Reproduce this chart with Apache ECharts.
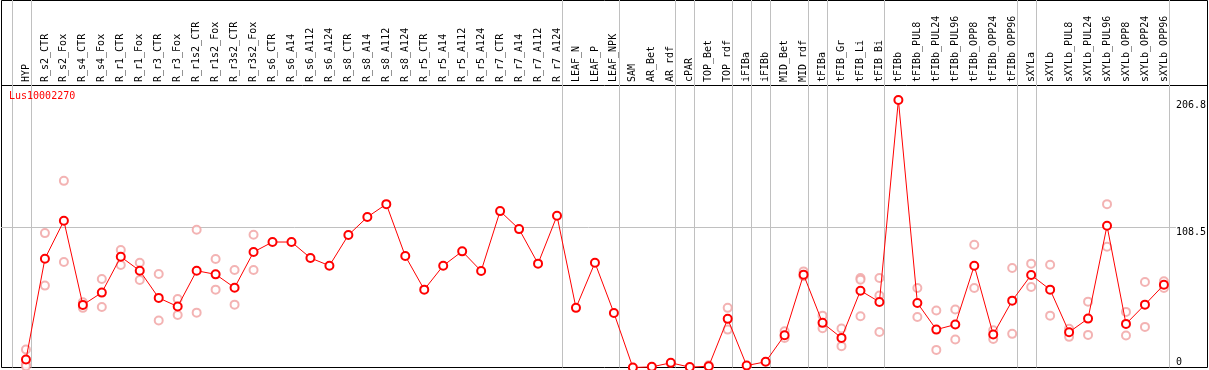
<!DOCTYPE html>
<html>
<head>
<meta charset="utf-8">
<script src="https://cdn.jsdelivr.net/npm/echarts@6/dist/echarts.min.js"></script>
<style>
    html, body { margin: 0; padding: 0; background: #fff; }
    #chart { width: 1209px; height: 370px; }
</style>
</head>
<body>
<div id="chart"></div>
<script>
// 样本名 (x 轴)
var categories = ['HYP', 'R_s2_CTR', 'R_s2_Fox', 'R_s4_CTR', 'R_s4_Fox', 'R_r1_CTR', 'R_r1_Fox', 'R_r3_CTR', 'R_r3_Fox',
    'R_r1s2_CTR', 'R_r1s2_Fox', 'R_r3s2_CTR', 'R_r3s2_Fox', 'R_s6_CTR', 'R_s6_A14', 'R_s6_A112', 'R_s6_A124',
    'R_s8_CTR', 'R_s8_A14', 'R_s8_A112', 'R_s8_A124', 'R_r5_CTR', 'R_r5_A14', 'R_r5_A112', 'R_r5_A124',
    'R_r7_CTR', 'R_r7_A14', 'R_r7_A112', 'R_r7_A124', 'LEAF_N', 'LEAF_P', 'LEAF_NPK', 'SAM', 'AR_Bet', 'AR_rdf',
    'cPAR', 'TOP_Bet', 'TOP_rdf', 'iFIBa', 'iFIBb', 'MID_Bet', 'MID_rdf', 'tFIBa', 'tFIB_Gr', 'tFIB_Li', 'tFIB_Bi',
    'tFIBb', 'tFIBb_PUL8', 'tFIBb_PUL24', 'tFIBb_PUL96', 'tFIBb_OPP8', 'tFIBb_OPP24', 'tFIBb_OPP96',
    'sXYLa', 'sXYLb', 'sXYLb_PUL8', 'sXYLb_PUL24', 'sXYLb_PUL96', 'sXYLb_OPP8', 'sXYLb_OPP24', 'sXYLb_OPP96'];

// 平均值
var meanValues = [6.2, 84.1, 113.4, 48.4, 57.9, 85.6, 74.8, 53.8, 47.1, 74.8, 72.0, 61.7, 89.3, 97.0, 97.0, 84.7, 78.7,
    102.4, 116.3, 126.3, 86.2, 60.2, 78.7, 89.8, 74.6, 120.9, 107.0, 80.3, 117.3, 46.1, 81.0, 42.2, 0.0, 0.5, 3.6,
    0.3, 1.0, 37.6, 1.5, 4.4, 25.0, 71.8, 34.5, 22.9, 59.4, 50.7, 206.8, 49.9, 29.3, 33.2, 78.7, 25.5, 51.7,
    71.5, 60.2, 27.3, 37.8, 109.6, 33.7, 48.6, 64.0];

// 重复样本
var rep1 = [13.9, 103.9, 144.3, 50.4, 68.4, 90.8, 81.0, 72.3, 53.0, 106.5, 83.9, 75.4, 102.6, null, null, null, null,
    null, null, null, null, null, null, null, null, null, null, null, null, null, null, null, null, null, null,
    null, 1.7, 46.1, null, null, 28.0, 74.3, 40.1, 30.1, 69.2, 69.2, null, 61.5, 44.0, 44.8, 94.9, 28.8, 76.9,
    80.3, 79.5, 29.9, 50.9, 126.3, 43.0, 66.1, 66.6];
var rep2 = [2.5, 63.3, 81.5, 46.1, 46.8, 79.2, 67.7, 36.3, 40.6, 42.4, 60.2, 48.6, 75.4, null, null, null, null,
    null, null, null, null, null, null, null, null, null, null, null, null, null, null, null, null, null, null,
    null, 0.5, 29.3, null, null, 22.9, 70.5, 30.3, 16.5, 39.6, 27.5, null, 39.1, 13.6, 21.6, 61.5, 22.1, 26.0,
    62.3, 40.1, 23.7, 25.2, 93.4, 24.7, 31.4, 61.5];
var rep3 = [1.0, null, null, null, null, null, null, null, null, null, null, null, null, null, null, null, null,
    null, null, null, null, null, null, null, null, null, null, null, null, null, null, null, null, null, null,
    null, null, null, null, null, null, null, null, null, 67.9, 55.6, null, null, null, null, null, null, null,
    null, null, null, null, null, null, null, null];

// 分组分隔线 (在这些样本之后)
var groupEnds = [-1, 0, 28, 31, 34, 35, 37, 38, 39, 41, 42, 45, 52, 53, 60];

var yTicks = [0, 108.5, 206.8];
var gridValue = 108.5;
var geneName = 'Lus10002270';

var font = 'DejaVu Sans Mono';

function toPairs(arr) {
    var out = [];
    for (var i = 0; i < arr.length; i++) {
        if (arr[i] !== null) out.push([i, arr[i]]);
    }
    return out;
}

var indices = categories.map(function (c, i) { return i; });

var sepLines = groupEnds.map(function (g) { return { xAxis: g + 5 / 19 }; });
sepLines.push({ yAxis: gridValue });

function repSeries(arr) {
    return {
        type: 'scatter',
        data: toPairs(arr),
        symbol: 'emptyCircle',
        symbolSize: 8,
        itemStyle: { color: '#f0a0a0', borderWidth: 1.3 },
        z: 2,
        silent: true
    };
}

var chart = echarts.init(document.getElementById('chart'));

chart.setOption({
    animation: false,
    title: {
        text: geneName,
        left: 9,
        top: 91,
        padding: 0,
        textStyle: { color: '#ff0000', fontFamily: font, fontSize: 10, fontWeight: 'normal' }
    },
    grid: { left: 1, right: 31, top: 0, bottom: 2.5, containLabel: false },
    xAxis: {
        type: 'value',
        position: 'top',
        offset: -85,
        min: -25 / 19,
        max: 1152 / 19,
        axisLine: { show: false },
        axisTick: { show: false },
        splitLine: { show: false },
        axisLabel: {
            customValues: indices,
            rotate: 90,
            margin: 3,
            color: '#000',
            fontFamily: font,
            fontSize: 10,
            formatter: function (v) { return categories[Math.round(v)]; }
        }
    },
    yAxis: {
        type: 'value',
        position: 'right',
        min: 0,
        max: 206.8 * 367.5 / 267.5,
        axisLine: { show: false },
        axisTick: { show: false },
        splitLine: { show: false },
        axisLabel: {
            customValues: yTicks,
            margin: 0,
            color: '#000',
            fontFamily: font,
            fontSize: 10,
            verticalAlign: 'top',
            verticalAlignMinLabel: 'bottom'
        }
    },
    series: [
        repSeries(rep1),
        repSeries(rep2),
        repSeries(rep3),
        {
            type: 'line',
            data: toPairs(meanValues),
            symbol: 'emptyCircle',
            symbolSize: 8,
            itemStyle: { color: '#ff0000', borderWidth: 1.4 },
            lineStyle: { color: '#ff0000', width: 1 },
            z: 3,
            markLine: {
                silent: true,
                symbol: ['none', 'none'],
                label: { show: false },
                lineStyle: { color: '#c0c0c0', width: 1, type: 'solid' },
                z: 1,
                data: sepLines
            }
        }
    ],
    graphic: [
        {
            type: 'rect',
            shape: { x: 1.5, y: 0.5, width: 1206, height: 367 },
            style: { fill: null, stroke: '#000', lineWidth: 1 },
            silent: true
        },
        {
            type: 'line',
            shape: { x1: 1, y1: 85.5, x2: 1208, y2: 85.5 },
            style: { stroke: '#000', lineWidth: 1 },
            silent: true
        }
    ]
});
</script>
</body>
</html>
